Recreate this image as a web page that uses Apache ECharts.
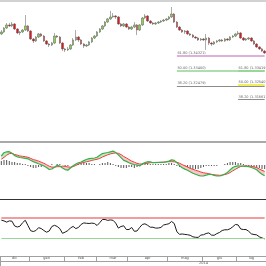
<!DOCTYPE html>
<html><head><meta charset="utf-8">
<script src="https://cdn.jsdelivr.net/npm/echarts@6/dist/echarts.min.js"></script>
<style>html,body{margin:0;padding:0;background:#fff}#c{width:266px;height:266px}</style>
</head><body><div id="c"></div>
<script>
// ---- price candles (EUR/USD-like, daily) ----
const opens = [1.3567,1.3579,1.3603,1.3622,1.3616,1.3628,1.3597,1.3573,1.3579,1.3591,
1.3616,1.3585,1.3536,1.3524,1.3548,1.3567,1.3554,1.3524,1.3505,1.3499,
1.3511,1.3554,1.3548,1.3511,1.3475,1.3469,1.3475,1.3499,1.3530,1.3548,
1.3530,1.3505,1.3493,1.3499,1.3518,1.3542,1.3554,1.3579,1.3597,1.3616,
1.3640,1.3659,1.3671,1.3677,1.3671,1.3628,1.3616,1.3628,1.3609,1.3597,
1.3609,1.3622,1.3591,1.3622,1.3665,1.3677,1.3646,1.3634,1.3628,1.3634,
1.3640,1.3646,1.3652,1.3659,1.3671,1.3689,1.3640,1.3609,1.3591,1.3579,
1.3585,1.3567,1.3560,1.3548,1.3542,1.3530,1.3536,1.3530,1.3542,1.3511,
1.3505,1.3518,1.3524,1.3530,1.3524,1.3536,1.3530,1.3548,1.3554,1.3567,
1.3573,1.3542,1.3530,1.3536,1.3542,1.3524,1.3505,1.3487,1.3475,1.3462];
const closes = [1.3579,1.3603,1.3622,1.3616,1.3628,1.3597,1.3573,1.3579,1.3591,1.3616,
1.3585,1.3536,1.3524,1.3548,1.3567,1.3554,1.3524,1.3505,1.3499,1.3511,
1.3554,1.3548,1.3511,1.3475,1.3469,1.3475,1.3499,1.3530,1.3548,1.3530,
1.3505,1.3493,1.3499,1.3518,1.3542,1.3554,1.3579,1.3597,1.3616,1.3640,
1.3659,1.3671,1.3677,1.3671,1.3628,1.3616,1.3628,1.3609,1.3597,1.3609,
1.3622,1.3591,1.3622,1.3665,1.3677,1.3646,1.3634,1.3628,1.3634,1.3640,
1.3646,1.3652,1.3659,1.3671,1.3689,1.3640,1.3609,1.3591,1.3579,1.3585,
1.3567,1.3560,1.3548,1.3542,1.3530,1.3536,1.3530,1.3542,1.3511,1.3505,
1.3518,1.3524,1.3530,1.3524,1.3536,1.3530,1.3548,1.3554,1.3567,1.3573,
1.3542,1.3530,1.3536,1.3542,1.3524,1.3505,1.3487,1.3475,1.3462,1.3450];
const highs = [1.3591,1.3609,1.3634,1.3634,1.3640,1.3634,1.3603,1.3585,1.3597,1.3683,
1.3622,1.3591,1.3542,1.3554,1.3573,1.3573,1.3560,1.3530,1.3511,1.3518,
1.3573,1.3560,1.3554,1.3518,1.3481,1.3487,1.3505,1.3542,1.3591,1.3554,
1.3536,1.3511,1.3505,1.3524,1.3548,1.3560,1.3585,1.3603,1.3622,1.3646,
1.3665,1.3708,1.3695,1.3683,1.3677,1.3634,1.3634,1.3634,1.3616,1.3616,
1.3640,1.3628,1.3628,1.3671,1.3689,1.3683,1.3652,1.3640,1.3640,1.3646,
1.3652,1.3659,1.3665,1.3677,1.3732,1.3695,1.3646,1.3616,1.3597,1.3591,
1.3591,1.3573,1.3567,1.3554,1.3548,1.3542,1.3542,1.3567,1.3548,1.3518,
1.3524,1.3530,1.3536,1.3536,1.3542,1.3542,1.3554,1.3560,1.3573,1.3585,
1.3579,1.3548,1.3542,1.3548,1.3548,1.3530,1.3511,1.3493,1.3481,1.3469];
const lows = [1.3560,1.3573,1.3597,1.3609,1.3609,1.3591,1.3567,1.3560,1.3573,1.3585,
1.3579,1.3530,1.3511,1.3518,1.3542,1.3548,1.3518,1.3499,1.3487,1.3493,
1.3505,1.3542,1.3505,1.3462,1.3456,1.3462,1.3469,1.3493,1.3524,1.3518,
1.3499,1.3481,1.3487,1.3493,1.3511,1.3536,1.3548,1.3573,1.3591,1.3609,
1.3634,1.3652,1.3665,1.3659,1.3622,1.3609,1.3609,1.3603,1.3591,1.3591,
1.3603,1.3560,1.3585,1.3616,1.3659,1.3640,1.3628,1.3622,1.3622,1.3628,
1.3634,1.3640,1.3646,1.3652,1.3665,1.3634,1.3603,1.3585,1.3573,1.3567,
1.3560,1.3554,1.3542,1.3536,1.3524,1.3524,1.3524,1.3469,1.3499,1.3493,
1.3499,1.3511,1.3518,1.3518,1.3518,1.3524,1.3524,1.3542,1.3548,1.3560,
1.3536,1.3524,1.3524,1.3530,1.3518,1.3499,1.3481,1.3469,1.3456,1.3444];

// ---- Fibonacci retracement levels ----
const fibLevels = ['61.80', '50.00', '38.20'];
const fibLeftPrices = [1.34321, 1.33400, 1.32479];
const fibRightPrices = [1.33419, 1.32540, 1.31661];
const fibLeftStart = 66;
const fibRightStart = 89;

// ---- MACD panel ----
const macd = [0.00180,0.00246,0.00264,0.00266,0.00234,0.00188,0.00164,0.00150,0.00142,0.00134,
0.00124,0.00094,0.00068,0.00048,0.00024,0.00004,-0.00020,-0.00050,-0.00090,-0.00080,
-0.00046,-0.00004,-0.00020,-0.00060,-0.00092,-0.00104,-0.00060,-0.00016,0.00020,0.00044,
0.00060,0.00088,0.00110,0.00128,0.00134,0.00140,0.00156,0.00196,0.00228,0.00240,
0.00250,0.00264,0.00278,0.00248,0.00202,0.00146,0.00092,0.00072,0.00044,0.00022,
0.00010,0.00000,-0.00018,0.00022,0.00048,0.00066,0.00064,0.00046,0.00046,0.00050,
0.00054,0.00056,0.00064,0.00078,0.00102,0.00092,0.00048,-0.00012,-0.00054,-0.00082,
-0.00106,-0.00136,-0.00164,-0.00186,-0.00206,-0.00220,-0.00218,-0.00204,-0.00188,-0.00190,
-0.00208,-0.00220,-0.00220,-0.00206,-0.00180,-0.00148,-0.00098,-0.00050,-0.00026,-0.00016,
-0.00020,-0.00022,-0.00030,-0.00034,-0.00050,-0.00070,-0.00096,-0.00144,-0.00184,-0.00216];
const signal = [0.00116,0.00152,0.00196,0.00226,0.00234,0.00210,0.00198,0.00180,0.00174,0.00166,
0.00154,0.00134,0.00108,0.00096,0.00078,0.00056,0.00034,0.00006,-0.00024,-0.00042,
-0.00042,-0.00034,-0.00034,-0.00022,-0.00028,-0.00038,-0.00044,-0.00032,-0.00010,0.00018,
0.00038,0.00052,0.00064,0.00076,0.00092,0.00104,0.00114,0.00132,0.00160,0.00182,
0.00204,0.00222,0.00234,0.00242,0.00234,0.00208,0.00170,0.00142,0.00110,0.00078,
0.00056,0.00034,0.00020,0.00020,0.00026,0.00036,0.00046,0.00048,0.00052,0.00054,
0.00054,0.00056,0.00064,0.00066,0.00066,0.00064,0.00054,0.00036,0.00008,-0.00016,
-0.00040,-0.00068,-0.00086,-0.00104,-0.00120,-0.00140,-0.00156,-0.00164,-0.00174,-0.00186,
-0.00196,-0.00200,-0.00206,-0.00202,-0.00192,-0.00176,-0.00152,-0.00116,-0.00086,-0.00056,
-0.00030,-0.00020,-0.00020,-0.00020,-0.00026,-0.00038,-0.00052,-0.00080,-0.00106,-0.00128];
const hist = [0.0008,0.0010,0.0010,0.0008,0.0006,0.0006,0.0004,0.0004,0.0002,0.0002,
-0.0002,-0.0004,-0.0006,-0.0006,-0.0004,-0.0004,-0.0002,-0.0002,0,0.0002,
0,0.0002,0.0002,0,-0.0002,-0.0002,0,0,0.0002,0.0004,
0.0006,0.0006,0.0004,0.0004,0.0002,0.0002,0,0.0002,0.0004,0.0004,
0.0006,0.0004,0.0002,-0.0002,-0.0004,-0.0006,-0.0006,-0.0006,-0.0004,-0.0004,
-0.0006,-0.0004,-0.0002,0.0002,0.0002,0.0004,0.0002,0.0002,0.0002,0.0002,
0.0002,0.0002,0.0002,0.0004,0.0004,0.0002,-0.0002,-0.0004,-0.0006,-0.0008,
-0.0010,-0.0010,-0.0010,-0.0008,-0.0008,-0.0006,-0.0004,-0.0002,-0.0002,-0.0002,
-0.0002,-0.0002,0,0,0.0002,0.0004,0.0006,0.0006,0.0006,0.0004,
0.0004,0.0002,-0.0002,-0.0002,-0.0004,-0.0004,-0.0006,-0.0006,-0.0008,-0.0008];

// ---- RSI panel ----
const rsi = [65.0,63.5,61.2,63.5,63.0,53.8,51.9,53.4,60.1,64.7,
54.8,44.9,43.3,45.2,50.6,49.0,45.2,42.0,44.3,52.9,
55.1,52.9,48.7,39.9,42.2,45.0,50.2,53.0,48.9,51.0,
56.9,59.7,59.0,58.6,59.3,58.6,54.8,60.1,66.2,66.2,
64.5,65.4,64.7,59.3,49.8,52.9,54.2,47.1,47.1,51.0,
43.7,44.3,51.0,56.7,58.0,55.1,51.5,51.5,49.8,50.0,
51.1,55.7,56.9,58.2,62.4,58.6,42.8,38.0,38.6,37.8,
37.2,36.1,33.2,32.3,32.1,36.5,37.2,39.5,40.7,36.5,
36.1,39.3,41.4,45.2,46.6,46.6,48.5,52.3,56.7,55.9,
48.1,47.1,47.1,43.7,38.8,37.6,36.9,33.2,31.0,29.4];
const rsiUpper = 70;
const rsiLower = 30;

// ---- time axis ----
const monthLabels = ['dic', 'gen', 'feb', 'mar', 'apr', 'mag', 'giu', 'lug'];
const monthStarts = [0, 11, 24, 36, 48, 63, 76, 89];
const yearLabels = ['2014'];
const yearStarts = [11];
const yearLabelAt = [76];

// ---- build ----
const N = closes.length;
const idx = closes.map((_, i) => i);
const candleData = opens.map((o, i) => [o, closes[i], lows[i], highs[i]]);
const fillBase = macd.map((m, i) => Math.min(m, signal[i]));
const fillUp = macd.map((m, i) => Math.max(m - signal[i], 0));
const fillDn = macd.map((m, i) => Math.max(signal[i] - m, 0));
const monthLabelIdx = monthStarts.map((s, k) =>
  Math.floor((s + (k + 1 < monthStarts.length ? monthStarts[k + 1] : N)) / 2));

const fibLeftColors = [['#dcb2dc', 2], ['#93d393', 1.5], ['#8c8c8c', 1]];
const fibRightColors = [['#93d393', 1.5], ['#f2ef5e', 2], ['#8c8c8c', 1]];
function fibLine(level, price, start, style) {
  return [
    { xAxis: start, yAxis: price,
      lineStyle: { color: style[0], width: style[1], type: 'solid' },
      label: { show: true, formatter: level + ' (' + price.toFixed(5) + ')' } },
    { xAxis: N - 1, yAxis: price }
  ];
}
const fibData = []
  .concat(fibLevels.map((l, k) => fibLine(l, fibLeftPrices[k], fibLeftStart, fibLeftColors[k])))
  .concat(fibLevels.map((l, k) => fibLine(l, fibRightPrices[k], fibRightStart, fibRightColors[k])));

function levelPair(v, color, width) {
  return [
    { xAxis: 0, yAxis: v, lineStyle: { color, width, type: 'solid', opacity: 1 } },
    { xAxis: N - 1, yAxis: v }
  ];
}
const hiddenVal = (g, min, max) => ({ gridIndex: g, type: 'value', min, max, show: false });

const chart = echarts.init(document.getElementById('c'), null, { renderer: 'canvas' });
chart.setOption({
  animation: false,
  textStyle: { fontFamily: 'DejaVu Sans' },
  grid: [
    { left: 0, right: 0, top: 2, height: 140 },
    { left: 0, right: 0, top: 143, height: 56 },
    { left: 0, right: 0, top: 201.75, height: 52.5 },
    { left: 0, right: 0, top: 256, height: 5 },
    { left: 0, right: 0, top: 261, height: 5 }
  ],
  xAxis: [
    { gridIndex: 0, type: 'category', data: idx, position: 'bottom',
      axisLine: { onZero: false, lineStyle: { color: '#a9a9a9', width: 2 } },
      axisTick: { show: false }, axisLabel: { show: false } },
    { gridIndex: 0, type: 'category', data: idx, position: 'top', offset: 1,
      axisLine: { onZero: false, lineStyle: { color: '#d2d2d2', width: 2 } },
      axisTick: { show: false }, axisLabel: { show: false } },
    { gridIndex: 1, type: 'category', data: idx, position: 'bottom',
      axisLine: { onZero: false, lineStyle: { color: '#333', width: 1 } },
      axisTick: { show: false }, axisLabel: { show: false } },
    { gridIndex: 2, type: 'category', data: idx, show: false },
    { gridIndex: 3, type: 'category', data: idx, position: 'bottom',
      axisLine: { onZero: false, lineStyle: { color: '#a0a0a0', width: 1 } },
      axisTick: { show: true, inside: true, length: 5, interval: (i) => monthStarts.includes(i),
        lineStyle: { color: '#a0a0a0', width: 1 } },
      axisLabel: { show: true, inside: true, margin: 1, fontSize: 3.5, color: '#555',
        interval: (i) => monthLabelIdx.includes(i),
        formatter: (v, i) => monthLabels[monthLabelIdx.indexOf(i)] || '' } },
    { gridIndex: 3, type: 'category', data: idx, position: 'top',
      axisLine: { onZero: false, lineStyle: { color: '#a0a0a0', width: 1 } },
      axisTick: { show: false }, axisLabel: { show: false } },
    { gridIndex: 4, type: 'category', data: idx, position: 'bottom',
      axisLine: { show: false },
      axisTick: { show: true, inside: true, length: 5, interval: (i) => yearStarts.includes(i),
        lineStyle: { color: '#a0a0a0', width: 1 } },
      axisLabel: { show: true, inside: true, margin: 1, fontSize: 3.5, color: '#555',
        interval: (i) => yearLabelAt.includes(i),
        formatter: (v, i) => yearLabels[yearLabelAt.indexOf(i)] || '' } }
  ],
  yAxis: [
    hiddenVal(0, 1.29045, 1.37627),
    hiddenVal(1, -0.0068, 0.0044),
    hiddenVal(2, 0, 100),
    hiddenVal(3, 0, 1),
    hiddenVal(4, 0, 1)
  ],
  series: [
    { type: 'candlestick', xAxisIndex: 0, yAxisIndex: 0, data: candleData, barWidth: 2,
      itemStyle: { color: '#8fd052', color0: '#e8141c', borderColor: '#5a5a5a',
        borderColor0: '#5a5a5a', borderWidth: 0.5 },
      markLine: { symbol: ['none', 'none'], silent: true, animation: false,
        label: { position: 'insideStartTop', distance: 0.5, fontSize: 3.5, color: '#666', padding: 0 },
        data: fibData } },
    { type: 'line', xAxisIndex: 2, yAxisIndex: 1, data: fillBase, stack: 'f', stackStrategy: 'all',
      symbol: 'none', silent: true, lineStyle: { width: 0, opacity: 0 } },
    { type: 'line', xAxisIndex: 2, yAxisIndex: 1, data: fillUp, stack: 'f', stackStrategy: 'all',
      symbol: 'none', silent: true, lineStyle: { width: 0, opacity: 0 },
      areaStyle: { color: '#bfe9bf', opacity: 1 } },
    { type: 'line', xAxisIndex: 2, yAxisIndex: 1, data: fillDn, stack: 'f', stackStrategy: 'all',
      symbol: 'none', silent: true, lineStyle: { width: 0, opacity: 0 },
      areaStyle: { color: '#f8c6c6', opacity: 1 } },
    { type: 'bar', xAxisIndex: 2, yAxisIndex: 1, data: hist, barWidth: 1,
      itemStyle: { color: '#555' } },
    { type: 'line', xAxisIndex: 2, yAxisIndex: 1, data: signal, symbol: 'none',
      lineStyle: { color: '#ef3b3b', width: 1 } },
    { type: 'line', xAxisIndex: 2, yAxisIndex: 1, data: macd, symbol: 'none',
      lineStyle: { color: '#35b04a', width: 1.2 } },
    { type: 'line', xAxisIndex: 3, yAxisIndex: 2, data: rsi, symbol: 'none',
      lineStyle: { color: '#1a1a1a', width: 1 },
      markLine: { symbol: ['none', 'none'], silent: true, animation: false, label: { show: false },
        data: [levelPair(rsiUpper, '#ee7c7c', 1.5), levelPair(rsiLower, '#99d799', 1)] } }
  ]
});
</script></body></html>
